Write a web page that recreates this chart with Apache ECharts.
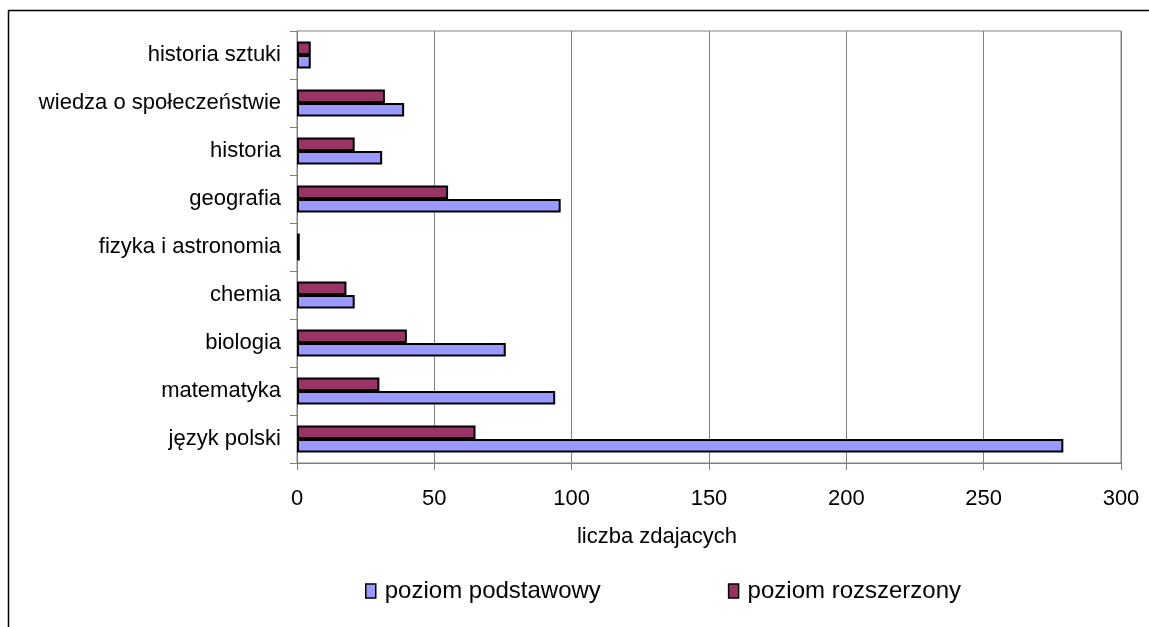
<!DOCTYPE html>
<html>
<head>
<meta charset="utf-8">
<script src="https://cdn.jsdelivr.net/npm/echarts@6/dist/echarts.min.js"></script>
<style>
html,body{margin:0;padding:0;background:#fff;}
#chart{width:1149px;height:627px;}
</style>
</head>
<body>
<div id="chart"></div>
<script>
const categories = ['język polski', 'matematyka', 'biologia', 'chemia', 'fizyka i astronomia', 'geografia', 'historia', 'wiedza o społeczeństwie', 'historia sztuki'];
const podstawowy = [279, 94, 76, 21, 1, 96, 31, 39, 5];
const rozszerzony = [65, 30, 40, 18, 1, 55, 21, 32, 5];
const seriesNames = ['poziom podstawowy', 'poziom rozszerzony'];
const xTicks = [0, 50, 100, 150, 200, 250, 300];
const axisTitle = 'liczba zdajacych';

const chart = echarts.init(document.getElementById('chart'));
const font = 'Liberation Sans, Arial, sans-serif';
chart.setOption({
  animation: false,
  grid: {left: 297, right: 28, top: 31, bottom: 164, containLabel: false,
         show: true, borderColor: '#808080', borderWidth: 1},
  graphic: [
    {type: 'rect', shape: {x: 8.5, y: 10.5, width: 1200, height: 700},
     style: {fill: null, stroke: '#000', lineWidth: 1.5}, silent: true},
    {type: 'text', x: 657, y: 537,
     style: {text: axisTitle, font: '22px ' + font, fill: '#000',
             textAlign: 'center', textVerticalAlign: 'middle'}}
  ],
  legend: {
    left: 360, top: 574, itemWidth: 10, itemHeight: 14, itemGap: 127,
    icon: 'rect',
    textStyle: {fontFamily: font, fontSize: 24, color: '#000', padding: [0,0,0,4]},
    data: seriesNames.map(n => ({name: n, itemStyle: {borderColor: '#000', borderWidth: 1.5}}))
  },
  xAxis: {
    type: 'value', min: 0, max: 300, interval: 50,
    axisLine: {show: true, lineStyle: {color: '#808080'}},
    axisTick: {show: true, length: 7, lineStyle: {color: '#808080'}},
    axisLabel: {fontFamily: font, fontSize: 22, color: '#000', margin: 25,
                formatter: v => xTicks.includes(v) ? String(v) : ''},
    splitLine: {show: true, lineStyle: {color: '#808080', width: 1}}
  },
  yAxis: {
    type: 'category', data: categories,
    axisLine: {show: true, lineStyle: {color: '#808080'}},
    axisTick: {show: true, length: 7, lineStyle: {color: '#808080'}},
    axisLabel: {fontFamily: font, fontSize: 22, color: '#000', margin: 16}
  },
  series: [
    {name: seriesNames[1], type: 'bar', data: rozszerzony, barWidth: 13.5, barGap: '0%',
     itemStyle: {color: '#993366', borderColor: '#000', borderWidth: 2}},
    {name: seriesNames[0], type: 'bar', data: podstawowy, barWidth: 13.5, barGap: '0%',
     itemStyle: {color: '#9999FF', borderColor: '#000', borderWidth: 2}}
  ]
});
</script>
</body>
</html>
